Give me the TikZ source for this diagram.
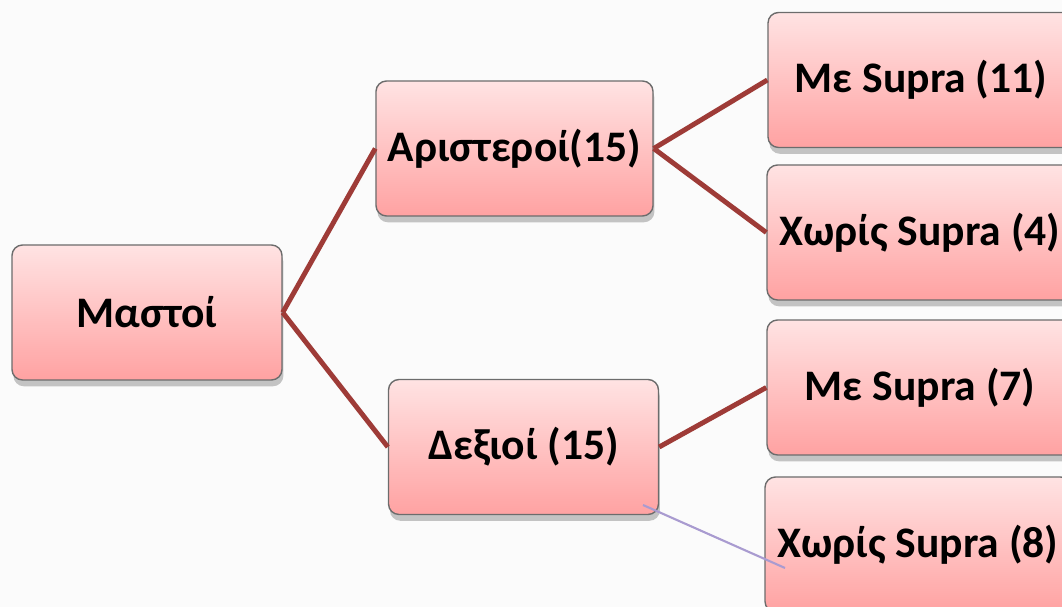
\documentclass[tikz,border=0pt]{standalone}
\usepackage{fontspec}
\setmainfont{Carlito}
\usetikzlibrary{shadows}
\definecolor{linkred}{HTML}{9E3B37}
\definecolor{boxtop}{HTML}{FFE3E3}
\definecolor{boxbot}{HTML}{FFA2A2}
\definecolor{lilac}{HTML}{A99BD0}
\tikzstyle{link} = [draw=linkred, line width=1.4pt]
\tikzstyle{thin link} = [draw=lilac, line width=0.6pt]

\begin{document}
\begin{tikzpicture}
\tikzstyle{block} = [draw=gray!85!black, rounded corners=3pt, top color=boxtop, bottom color=boxbot,
  minimum width=2.7cm, minimum height=1.35cm, font=\fontsize{12.4}{15}\selectfont\bfseries,
  drop shadow={shadow xshift=0.4pt, shadow yshift=-1.8pt, opacity=0.45}]
\tikzstyle{wide block} = [block, minimum width=3.06cm]
\clip (0,0) rectangle (10.62,-6.07);
\fill[gray!3] (0,0) rectangle (10.62,-6.07);
\node[block] at (1.47,-3.125) (block1) {Μαστοί};
\node[block] at (5.145,-1.485) (block2) {Αριστεροί(15)};
\node[block] at (5.235,-4.47) (block3) {Δεξιοί (15)};
\node[wide block] at (9.21,-0.80) (block4) {Με Supra (11)};
\node[wide block] at (9.20,-2.325) (block5) {Χωρίς Supra (4)};
\node[wide block] at (9.20,-3.875) (block6) {Με Supra (7)};
\node[wide block] at (9.18,-5.445) (block7) {Χωρίς Supra (8)};
\draw[link] (block1.east) -- (block2.west);
\draw[link] (block1.east) -- (block3.west);
\draw[link] (block2.east) -- (block4.west);
\draw[link] (block2.east) -- (block5.west);
\draw[link] (block3.east) -- (block6.west);
\coordinate (stray1) at (6.43,-5.05);
\coordinate (stray2) at (7.85,-5.68);
\draw[thin link] (stray1) -- (stray2);
\end{tikzpicture}
\end{document}
